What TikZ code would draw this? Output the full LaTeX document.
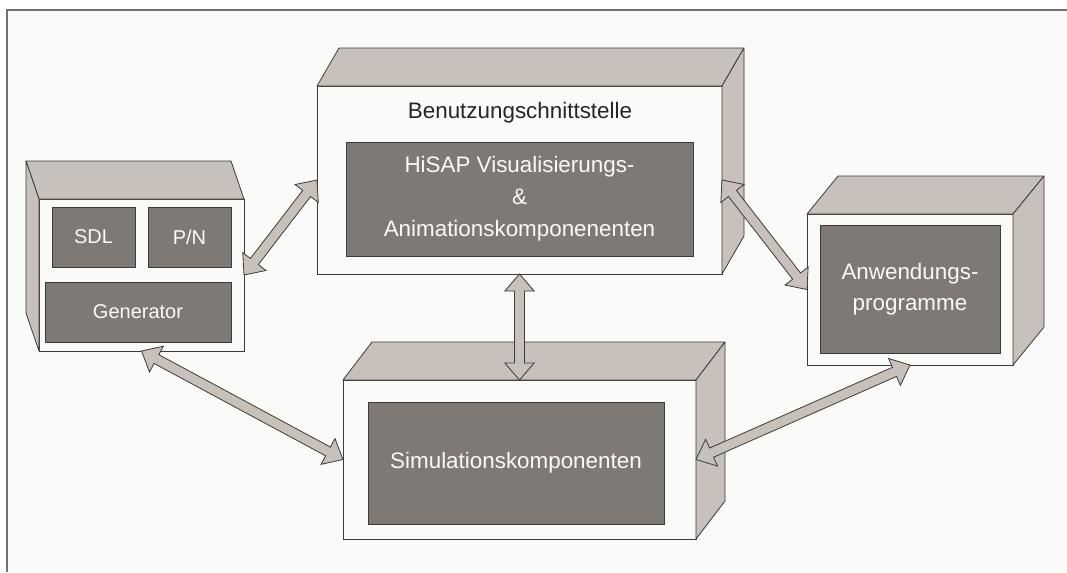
\documentclass[tikz,border=0pt]{standalone}
\usepackage{fontspec}
\setmainfont{Liberation Sans}
\usepackage{tikz}
\usetikzlibrary{positioning, calc}
\definecolor{paper}{HTML}{FAFAF8}
\definecolor{taupe}{HTML}{C8C0BA}
\definecolor{slate}{HTML}{7E7975}
\definecolor{edge}{HTML}{3C3C3C}
\definecolor{rim}{HTML}{707070}
\newcommand{\bigfont}{\fontsize{16.8}{24}\selectfont}
\newcommand{\midfont}{\fontsize{15}{18}\selectfont}
\newcommand{\arhead}{12.75pt}
\newcommand{\arwing}{11pt}
\newcommand{\arshaft}{3.75pt}
% block arrow with a head on both ends
\newcommand{\biarrow}[2]{%
\path ($(#1)!\arhead!(#2)$) coordinate (ha) ($(#2)!\arhead!(#1)$) coordinate (hb);
\draw[arrowbody] (#1) -- ($(ha)!\arwing!90:(#1)$) -- ($(ha)!\arshaft!90:(#1)$) -- ($(hb)!\arshaft!-90:(#2)$) -- ($(hb)!\arwing!-90:(#2)$) -- (#2) -- ($(hb)!\arwing!90:(#2)$) -- ($(hb)!\arshaft!90:(#2)$) -- ($(ha)!\arshaft!-90:(#1)$) -- ($(ha)!\arwing!-90:(#1)$) -- cycle;}
% top and side face of a box
\newcommand{\cubefaces}[4]{%
\draw[sideface] (#1.north west) -- ++(#2,#3) -- ($(#1.north east)+(#2,#3)$) -- (#1.north east) -- cycle;
\draw[sideface] (#1.north #4) -- ++(#2,#3) -- ($(#1.south #4)+(#2,#3)$) -- (#1.south #4) -- cycle;}
\tikzset{
frontface/.style={draw=edge, line width=0.6pt, fill=paper, inner sep=0pt, outer sep=0pt},
sideface/.style={draw=edge, line width=0.6pt, fill=taupe, line join=round},
darkbox/.style={draw=edge, line width=0.5pt, fill=slate, text=paper, inner sep=0pt, outer sep=0pt, align=center, font=\bigfont},
arrowbody/.style={draw=edge, line width=0.6pt, fill=taupe, line join=miter}
}

\begin{document}
\begin{tikzpicture}[x=0.75pt, y=-0.75pt]
\useasboundingbox (0,0) rectangle (1067,572);
\fill[white] (0,0) rectangle (1067,572);
\fill[paper] (7,10) rectangle (1067,572);
\draw[rim, line width=1pt] (7,572) -- (7,10) -- (1067,10);

\node[frontface, minimum width=153.75pt, minimum height=114pt] (tool) at (141.5,275) {};
\node[frontface, minimum width=303.75pt, minimum height=141pt] (ui) at (519.5,180) {};
\node[frontface, minimum width=154.5pt, minimum height=113.25pt] (apps) at (910,289.5) {};
\node[frontface, minimum width=264.75pt, minimum height=119.25pt] (simbox) at (519.5,459.5) {};

\cubefaces{tool}{-13}{-38}{west}
\cubefaces{ui}{22}{-38}{east}
\cubefaces{apps}{31}{-38}{east}
\cubefaces{simbox}{29}{-38}{east}

\node[darkbox, font=\midfont, minimum width=62.25pt, minimum height=45pt] (sdl) at (93.5,237) {SDL};
\node[darkbox, font=\midfont, minimum width=62.25pt, minimum height=45pt, right=9.75pt of sdl] (pn) {P/N};
\node[darkbox, font=\midfont, minimum width=139.5pt, minimum height=45pt] (gen) at (138,312) {Generator};

\node[text=black!85, font=\bigfont] (uititle) at (520,113) {Benutzungschnittstelle};
\node[darkbox, minimum width=260.25pt, minimum height=85.5pt] (hisap) at (519.5,199) {HiSAP Visualisierungs-\\\&\\Animationskomponenenten};

\node[darkbox, font=\fontsize{16.8}{23.25}\selectfont, minimum width=135pt, minimum height=96pt] (anw) at (910,289) {Anwendungs-\\programme};

\node[darkbox, minimum width=222pt, minimum height=91.5pt] (sim) at (516,463) {Simulationskomponenten};

\biarrow{tool.east}{ui.west}
\biarrow{ui.east}{apps.west}
\biarrow{ui.south}{simbox.north}
\biarrow{tool.south}{simbox.west}
\biarrow{simbox.east}{apps.south}
\end{tikzpicture}
\end{document}
